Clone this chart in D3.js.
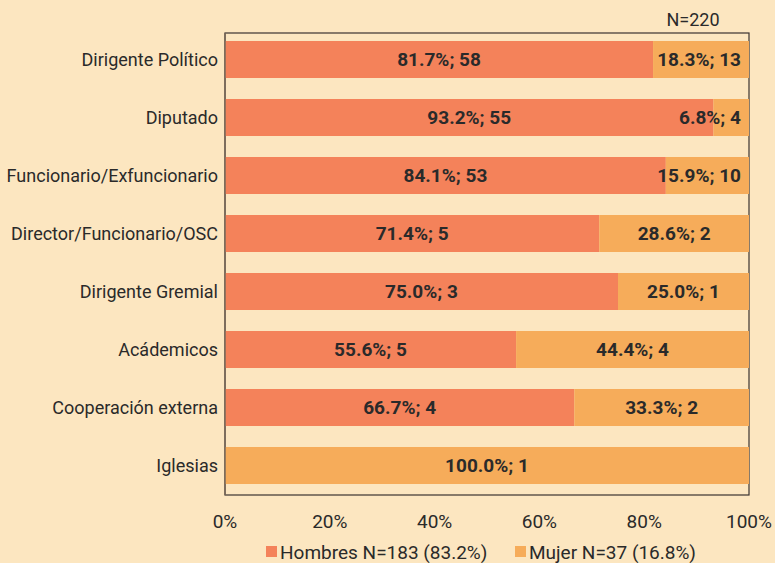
<!DOCTYPE html>
<html>
<head>
<meta charset="utf-8">
<script src="https://cdn.jsdelivr.net/npm/d3@7"></script>
<style>
  html, body { margin: 0; padding: 0; background: #fce6c0; }
  svg { display: block; }
  text { font-family: "Roboto", sans-serif; fill: #2a2a2a; }
</style>
</head>
<body>
<div id="chart"></div>
<script>
// categories (top to bottom)
const categories = [
  'Dirigente Político',
  'Diputado',
  'Funcionario/Exfuncionario',
  'Director/Funcionario/OSC',
  'Dirigente Gremial',
  'Acádemicos',
  'Cooperación externa',
  'Iglesias'
];
// counts per category
const hombres = [58, 55, 53, 5, 3, 5, 4, 0];
const mujeres = [13, 4, 10, 2, 1, 4, 2, 1];
const seriesNames = ['Hombres N=183 (83.2%)', 'Mujer N=37 (16.8%)'];
const xTicks = [0, 0.2, 0.4, 0.6, 0.8, 1];
const totalLabel = 'N=220';

const width = 775, height = 563;
const margin = { top: 33, right: 26, bottom: 68, left: 225 };
const colors = ['#f4825a', '#f6ac5a'];

const svg = d3.select('#chart').append('svg')
  .attr('width', width)
  .attr('height', height);

svg.append('rect').attr('width', width).attr('height', height).attr('fill', '#fce6c0');

const x = d3.scaleLinear()
  .domain([0, 1])
  .range([margin.left, width - margin.right]);

const y = d3.scaleBand()
  .domain(categories)
  .range([30.5, 494.5])
  .paddingInner(0.362)
  .paddingOuter(0.181);

// rows -> stacked shares
const rows = categories.map(function (c, i) {
  const tot = hombres[i] + mujeres[i];
  return { cat: c, h: hombres[i], m: mujeres[i], hp: hombres[i] / tot, mp: mujeres[i] / tot };
});

const stack = d3.stack().keys(['hp', 'mp']);
const series = stack(rows);

// plot border
svg.append('rect')
  .attr('x', x(0))
  .attr('y', margin.top)
  .attr('width', x(1) - x(0))
  .attr('height', height - margin.bottom - margin.top)
  .attr('fill', 'none')
  .attr('stroke', '#3a3330')
  .attr('stroke-width', 1.2);

const groups = svg.selectAll('g.series')
  .data(series)
  .enter().append('g')
  .attr('class', 'series')
  .attr('fill', function (d, i) { return colors[i]; });

groups.selectAll('rect')
  .data(function (d) { return d; })
  .enter().append('rect')
  .attr('x', function (d) { return x(d[0]); })
  .attr('y', function (d) { return y(d.data.cat); })
  .attr('width', function (d) { return x(d[1]) - x(d[0]); })
  .attr('height', y.bandwidth());

// left axis line (over the bars)
svg.append('line')
  .attr('x1', x(0)).attr('x2', x(0))
  .attr('y1', margin.top).attr('y2', height - margin.bottom)
  .attr('stroke', '#7a6a5a')
  .attr('stroke-width', 1.5);

// value labels
series.forEach(function (s, si) {
  s.forEach(function (d) {
    const count = si === 0 ? d.data.h : d.data.m;
    if (count === 0) return;
    const pct = d[1] - d[0];
    const t = svg.append('text')
      .attr('y', y(d.data.cat) + y.bandwidth() / 2)
      .attr('dy', '0.35em')
      .attr('text-anchor', 'middle')
      .style('font-size', '19px')
      .style('font-weight', 'bold')
      .text(d3.format('.1f')(pct * 100) + '%; ' + count);
    let cx = (x(d[0]) + x(d[1])) / 2;
    const w = t.node().getComputedTextLength();
    if (cx + w / 2 > x(1) - 8) cx = x(1) - 8 - w / 2;
    t.attr('x', cx);
  });
});

// category labels
svg.append('g')
  .selectAll('text')
  .data(categories)
  .enter().append('text')
  .attr('x', x(0) - 7)
  .attr('y', function (d) { return y(d) + y.bandwidth() / 2; })
  .attr('dy', '0.35em')
  .attr('text-anchor', 'end')
  .style('font-size', '18px')
  .text(function (d) { return d; });

// x tick labels
svg.append('g')
  .selectAll('text')
  .data(xTicks)
  .enter().append('text')
  .attr('x', function (d) { return x(d); })
  .attr('y', 521)
  .attr('dy', '0.35em')
  .attr('text-anchor', 'middle')
  .style('font-size', '19px')
  .text(d3.format('.0%'));

// total
svg.append('text')
  .attr('x', 693)
  .attr('y', 20)
  .attr('dy', '0.35em')
  .attr('text-anchor', 'middle')
  .style('font-size', '18px')
  .text(totalLabel);

// legend
const legendX = [266, 515];
const legend = svg.selectAll('g.legend')
  .data(seriesNames)
  .enter().append('g')
  .attr('class', 'legend')
  .attr('transform', function (d, i) { return 'translate(' + legendX[i] + ',552)'; });

legend.append('rect')
  .attr('x', 0).attr('y', -6)
  .attr('width', 11).attr('height', 11)
  .attr('fill', function (d, i) { return colors[i]; });

legend.append('text')
  .attr('x', 14)
  .attr('y', 0)
  .attr('dy', '0.35em')
  .style('font-size', '19px')
  .text(function (d) { return d; });
</script>
</body>
</html>
